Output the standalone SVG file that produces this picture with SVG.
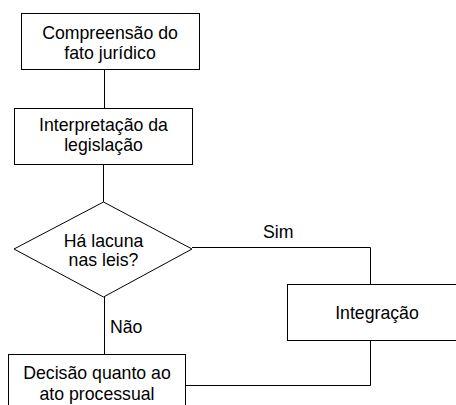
<svg xmlns="http://www.w3.org/2000/svg" width="456" height="405" viewBox="0 0 456 405">
<style>
.box{fill:#fff;stroke:#000;stroke-width:1}
.ln{fill:none;stroke:#000;stroke-width:1}
text{font-family:"Liberation Sans",Arial,sans-serif;font-size:17.7px;fill:#000}
.c{text-anchor:middle}
</style>
<rect width="456" height="405" fill="#fff"/>
<g id="connectors">
<line class="ln" x1="104.5" y1="69" x2="104.5" y2="108"/>
<line class="ln" x1="103.5" y1="164" x2="103.5" y2="202"/>
<line class="ln" x1="104.5" y1="297" x2="104.5" y2="354"/>
<polyline class="ln" points="192,247.5 370.5,247.5 370.5,284"/>
<polyline class="ln" points="370.5,341 370.5,385.5 186,385.5"/>
<text x="263" y="238">Sim</text>
<text x="110" y="333">Não</text>
</g>
<g id="n1">
<rect class="box" x="21.5" y="13.5" width="178" height="56"/>
<text class="c" x="110" y="39">Compreensão do</text>
<text class="c" x="110" y="59">fato jurídico</text>
</g>
<g id="n2">
<rect class="box" x="14.5" y="108.5" width="178" height="56"/>
<text class="c" x="103.5" y="131">Interpretação da</text>
<text class="c" x="103.5" y="151">legislação</text>
</g>
<g id="n3">
<polygon class="box" points="103.5,202 192,249 103.5,297 14,249"/>
<text class="c" x="103.5" y="247">Há lacuna</text>
<text class="c" x="103.5" y="266">nas leis?</text>
</g>
<g id="n4">
<rect class="box" x="287.5" y="284.5" width="180" height="56"/>
<text class="c" x="377" y="319">Integração</text>
</g>
<g id="n5">
<rect class="box" x="8.5" y="354.5" width="177" height="60"/>
<text class="c" x="97" y="379">Decisão quanto ao</text>
<text class="c" x="97" y="400">ato processual</text>
</g>
</svg>
